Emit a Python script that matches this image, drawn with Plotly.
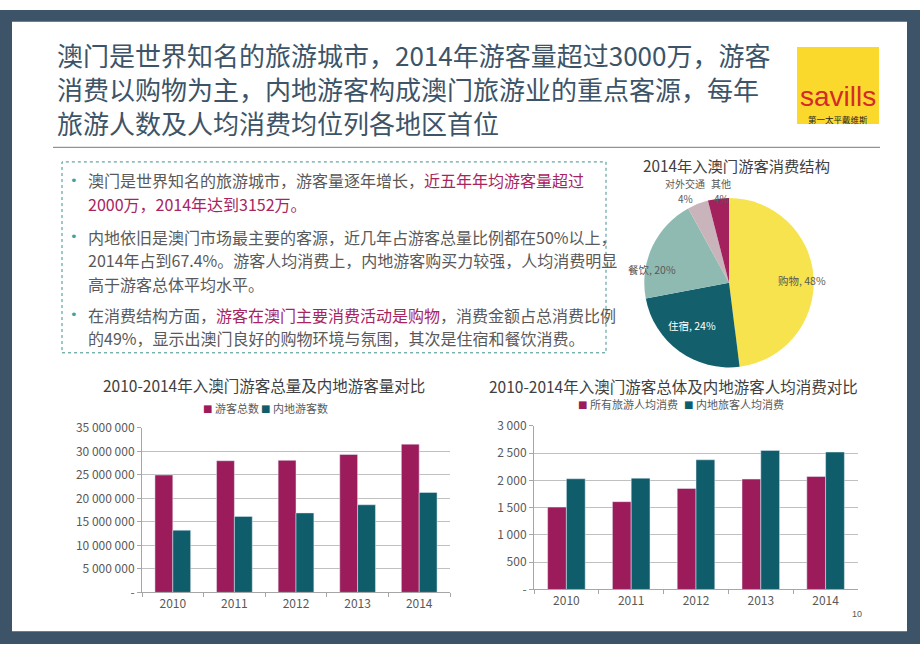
import plotly.graph_objects as go

W, H = 920, 651

# ---------------- data ----------------
years = ["2010", "2011", "2012", "2013", "2014"]
total_visitors = [24965000, 28002000, 28082000, 29325000, 31526000]
mainland_visitors = [13229000, 16163000, 16902000, 18632000, 21252000]
avg_spend_all = [1510, 1610, 1852, 2024, 2071]
avg_spend_mainland = [2030, 2041, 2378, 2550, 2520]

pie_labels = ["购物", "住宿", "餐饮", "对外交通", "其他"]
pie_values = [48, 24, 20, 4, 4]

y1_ticks = [0, 5000000, 10000000, 15000000, 20000000, 25000000, 30000000, 35000000]
y2_ticks = [0, 500, 1000, 1500, 2000, 2500, 3000]

series1_names = ["游客总数", "内地游客数"]
series2_names = ["所有旅游人均消费", "内地旅客人均消费"]

title_lines = [
    "澳门是世界知名的旅游城市，2014年游客量超过3000万，游客",
    "消费以购物为主，内地游客构成澳门旅游业的重点客源，每年",
    "旅游人数及人均消费均位列各地区首位",
]

MAG = "#9c1c5b"
TEAL = "#0f5d6b"
BORDER = "#3d5468"
TXT = "#595959"
HL = "#a8245f"
PIE_COLORS = ["#f7e34d", "#13606c", "#8fbab2", "#c8b4ba", "#a3215c"]


def fx(x):
    return x / W


def fy(y):
    return 1 - y / H


def fmt(v):
    return "-" if v == 0 else f"{v:,}".replace(",", " ")


fig = go.Figure()

# ---------------- bar chart 1 ----------------
fig.add_trace(go.Bar(x=years, y=total_visitors, name=series1_names[0], marker_color=MAG,
                     xaxis="x", yaxis="y", showlegend=False))
fig.add_trace(go.Bar(x=years, y=mainland_visitors, name=series1_names[1], marker_color=TEAL,
                     xaxis="x", yaxis="y", showlegend=False))

# ---------------- bar chart 2 ----------------
fig.add_trace(go.Bar(x=years, y=avg_spend_all, name=series2_names[0], marker_color=MAG,
                     xaxis="x2", yaxis="y2", showlegend=False))
fig.add_trace(go.Bar(x=years, y=avg_spend_mainland, name=series2_names[1], marker_color=TEAL,
                     xaxis="x2", yaxis="y2", showlegend=False))

# ---------------- pie ----------------
fig.add_trace(go.Pie(
    labels=pie_labels, values=pie_values, sort=False, direction="clockwise", rotation=0,
    marker=dict(colors=PIE_COLORS, line=dict(color="white", width=0)),
    textinfo="none",
    domain=dict(x=[fx(642), fx(816)], y=[fy(367), fy(193)]),
    showlegend=False, hoverinfo="label+percent",
))

axis_common = dict(showline=True, linecolor="#a6a6a6", linewidth=1,
                   tickfont=dict(size=12, color=TXT, family="Noto Sans CJK SC"))

fig.update_layout(
    width=W, height=H,
    margin=dict(l=0, r=0, t=0, b=0),
    paper_bgcolor="white", plot_bgcolor="white",
    font=dict(family="Noto Sans CJK SC", color=TXT),
    barmode="group", bargap=0.42, bargroupgap=0,
    xaxis=dict(domain=[fx(142), fx(450)], anchor="y", ticks="outside", tickson="boundaries",
               ticklen=4, tickcolor="#a6a6a6", **axis_common),
    yaxis=dict(domain=[fy(598), fy(429)], anchor="x", range=[0, 35000000],
               tickmode="array", tickvals=y1_ticks, ticktext=[fmt(v) for v in y1_ticks],
               showgrid=True, gridcolor="#c0c0c0", gridwidth=1, zeroline=False,
               ticks="outside", ticklen=4, tickcolor="#a6a6a6", **axis_common),
    xaxis2=dict(domain=[fx(534), fx(858)], anchor="y2", ticks="outside", tickson="boundaries",
                ticklen=4, tickcolor="#a6a6a6", **axis_common),
    yaxis2=dict(domain=[fy(595), fy(427)], anchor="x2", range=[0, 3000],
                tickmode="array", tickvals=y2_ticks, ticktext=[fmt(v) for v in y2_ticks],
                showgrid=True, gridcolor="#c0c0c0", gridwidth=1, zeroline=False,
                ticks="outside", ticklen=4, tickcolor="#a6a6a6", **axis_common),
)

shapes = []
# slate border frame
shapes += [
    dict(type="rect", xref="paper", yref="paper", x0=0, x1=1, y0=fy(12), y1=1,
         fillcolor=BORDER, line_width=0, layer="below"),
    dict(type="rect", xref="paper", yref="paper", x0=0, x1=1, y0=0, y1=fy(638),
         fillcolor=BORDER, line_width=0, layer="below"),
    dict(type="rect", xref="paper", yref="paper", x0=0, x1=fx(12), y0=0, y1=1,
         fillcolor=BORDER, line_width=0, layer="below"),
    dict(type="rect", xref="paper", yref="paper", x0=fx(907), x1=1, y0=0, y1=1,
         fillcolor=BORDER, line_width=0, layer="below"),
]
# line under title
shapes.append(dict(type="line", xref="paper", yref="paper", x0=fx(53), x1=fx(880),
                   y0=fy(141), y1=fy(141), line=dict(color="#7a7a7a", width=1)))
# dotted text box
shapes.append(dict(type="rect", xref="paper", yref="paper", x0=fx(62), x1=fx(606),
                   y0=fy(352), y1=fy(156), line=dict(color="#3f8f8c", width=1, dash="dot")))
# logo yellow box
shapes.append(dict(type="rect", xref="paper", yref="paper", x0=fx(797), x1=fx(879),
                   y0=fy(117), y1=fy(38), fillcolor="#fbd92c", line_width=0))
fig.update_layout(shapes=shapes)

ann = []


def add_text(text, x, y, size, color, anchor="center", family="Noto Sans CJK SC", align=None):
    ann.append(dict(text=text, x=fx(x), y=fy(y), xref="paper", yref="paper",
                    xanchor=anchor, yanchor="middle", showarrow=False,
                    align=align or ("left" if anchor == "left" else "center"),
                    font=dict(size=size, color=color, family=family)))


# slide title (one block, three lines)
add_text("<br>".join(title_lines), 55, 81, 26, BORDER, anchor="left")

# logo text
add_text("savills", 838, 89, 28, "#d42a2a", family="Liberation Sans")
add_text("第一太平戴维斯", 838, 112, 8.5, "#222222")


# text box lines
def hl(s):
    return f"<span style='color:{HL}'>{s}</span>"


box_lines = [
    (175, "澳门是世界知名的旅游城市，游客量逐年增长，" + hl("近五年年均游客量超过"), True),
    (199, hl("2000万，2014年达到3152万。"), False),
    (233, "内地依旧是澳门市场最主要的客源，近几年占游客总量比例都在50%以上，", True),
    (257, "2014年占到67.4%。游客人均消费上，内地游客购买力较强，人均消费明显", False),
    (281, "高于游客总体平均水平。", False),
    (313, "在消费结构方面，" + hl("游客在澳门主要消费活动是购物") + "，消费金额占总消费比例", True),
    (337, "的49%，显示出澳门良好的购物环境与氛围，其次是住宿和餐饮消费。", False),
]
for y, txt, bullet in box_lines:
    add_text(txt, 86, y, 16, TXT, anchor="left")
    if bullet:
        add_text("•", 74, y, 13, "#3aa6a0", family="DejaVu Sans")

# chart titles
add_text("2014年入澳门游客消费结构", 736, 159, 15.3, "#404040")
add_text("2010-2014年入澳门游客总量及内地游客量对比", 264, 385, 15.5, "#404040")
add_text("2010-2014年入澳门游客总体及内地游客人均消费对比", 673, 386, 15.5, "#404040")

# pie labels (built from the pie data)
pie_label_pos = [(802, 278, TXT), (692, 324, "white"), (652, 266, TXT)]
for (lx, ly, col), lab, val in zip(pie_label_pos, pie_labels[:3], pie_values[:3]):
    add_text(f"{lab}, {val}%", lx, ly, 10.5, col)
for (lx, lab, val) in zip([685, 721], pie_labels[3:], pie_values[3:]):
    add_text(lab, lx, 178.5, 10, TXT)
    add_text(f"{val}%", lx, 193.5, 10, TXT)

# manual compact legends
legend_specs = [
    (series1_names, [MAG, TEAL], [207, 265], 409),
    (series2_names, [MAG, TEAL], [582, 688], 405),
]
for names, cols, xs, ly in legend_specs:
    for nm, col, lx in zip(names, cols, xs):
        add_text("■", lx, ly, 10, col, family="DejaVu Sans")
        add_text(nm, lx + 6, ly, 11, TXT, anchor="left")

# page number
add_text("10", 857, 620, 9, TXT, family="Liberation Sans")
fig.update_layout(annotations=ann)

fig.write_html("out.html", config={"displayModeBar": False},
               post_script="document.body.style.margin='0px';")
